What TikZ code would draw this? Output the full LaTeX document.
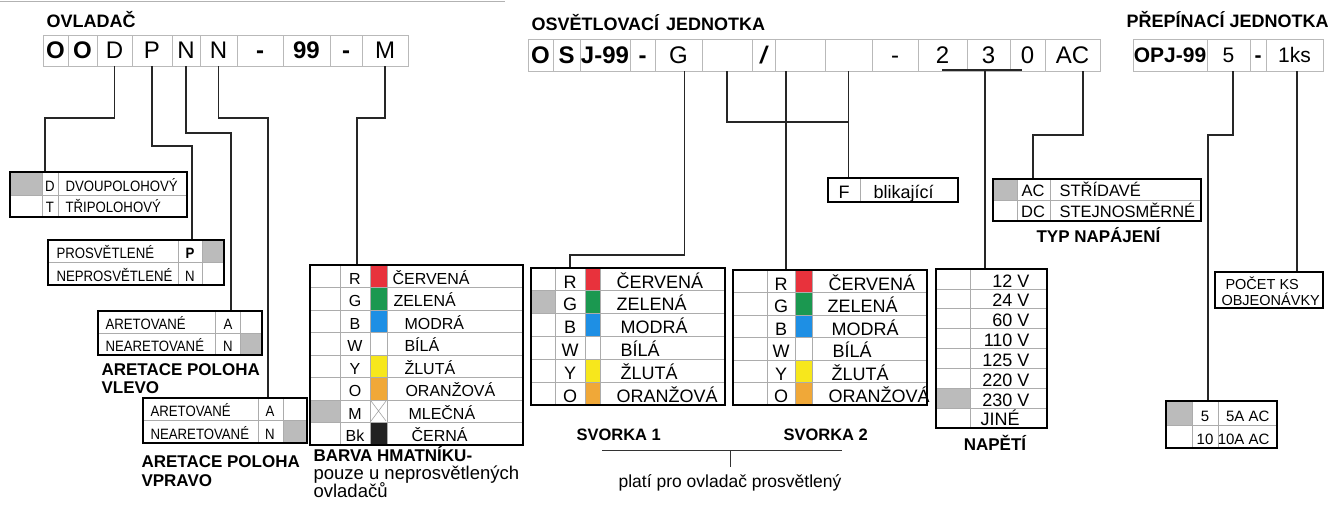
\documentclass[tikz,border=0pt]{standalone}
\usepackage{fontspec}
\setmainfont{Liberation Sans}
\newfontfamily\narrowfont[FakeStretch=0.88]{Liberation Sans}
\newcommand\fsz[1]{\fontsize{#1}{#1}\selectfont}
\newcommand\mkcell[7][]{\node[cellbox,#1, minimum width={#5-#3}, minimum height={#6-#4}] (#2) at ({(#3+#5)/2},{(#4+#6)/2}) {#7};}
\newcommand\mkframe[5]{\node[frame, minimum width={#4-#2}, minimum height={#5-#3}] (#1) at ({(#2+#4)/2},{(#3+#5)/2}) {};}
\definecolor{cred}{HTML}{E8323C}
\definecolor{cgreen}{HTML}{1B9850}
\definecolor{cblue}{HTML}{1E8FE4}
\definecolor{cyellow}{HTML}{F7E71C}
\definecolor{corange}{HTML}{F0A838}
\definecolor{cblack}{HTML}{222222}
\definecolor{selgray}{HTML}{BBBBBB}
\begin{document}
\begin{tikzpicture}[x=1pt,y=-1pt,
  cellbox/.style={draw=gray!55, line width=0.8pt, inner sep=0pt, font={\fsz{24}}, text height=17pt, text depth=0pt},
  frame/.style={draw=black, line width=1.8pt, inner sep=0pt},
  grid/.style={draw=gray!65, line width=0.7pt},
  conn/.style={draw=black!85, line width=1.3pt},
  sel/.style={fill=selgray},
  ttl/.style={anchor=base west, font={\bfseries\fsz{18}}},
  lbl/.style={anchor=base west, font={\bfseries\fsz{17}}},
  nar/.style={anchor=base west, font={\narrowfont\fsz{15}}},
  narc/.style={anchor=base, font={\narrowfont\fsz{15}}},
  txw/.style={anchor=base west, font={\fsz{#1}}},
  txc/.style={anchor=base, font={\fsz{#1}}},
  txe/.style={anchor=base east, font={\fsz{#1}}},
]
\useasboundingbox[fill=white] (0,0) rectangle (1336,508);
\coordinate (tl1) at (0,2); \coordinate (tl2) at (505,2);
\draw[gray!60, line width=1pt] (tl1) -- (tl2);

% ================= OVLADAC =================
\node[ttl] (tOV) at (43,28) {OVLADAČ};
\mkcell{c1}{43}{35}{68}{66}{\bfseries O}
\mkcell{c2}{68}{35}{97}{66}{\bfseries O}
\mkcell{c3}{97}{35}{132}{66}{D}
\mkcell{c4}{132}{35}{172}{66}{P}
\mkcell{c5}{172}{35}{200}{66}{N}
\mkcell{c6}{200}{35}{237}{66}{N}
\mkcell{c7}{237}{35}{283}{66}{\bfseries -}
\mkcell{c8}{283}{35}{330}{66}{\bfseries 99}
\mkcell{c9}{330}{35}{362}{66}{\bfseries -}
\mkcell{c10}{362}{35}{408}{66}{M}

% D / T table
\fill[sel] (10,172) rectangle (42,195);
\draw[grid] (10,195) -- (187,195) (42,172) -- (42,217) (58,172) -- (58,217);
\mkframe{tabD}{10}{172}{187}{217}
\node[narc] (dD) at (50,191) {D};
\node[narc] (dT) at (50,212) {T};
\node[nar] (dD2) at (62,191) {DVOUPOLOHOVÝ};
\node[nar] (dT2) at (62,212) {TŘIPOLOHOVÝ};

% P / N table
\fill[sel] (202,240) rectangle (224,262);
\draw[grid] (48,262) -- (224,262) (178,240) -- (178,285) (202,240) -- (202,285);
\mkframe{tabP}{48}{240}{224}{285}
\node[nar] (pP) at (53,258) {PROSVĚTLENÉ};
\node[nar] (pN) at (53,281) {NEPROSVĚTLENÉ};
\node[narc] (pP2) at (190,258) {\bfseries P};
\node[narc] (pN2) at (190,281) {N};

% ARETACE VLEVO
\fill[sel] (240,333) rectangle (262,355);
\draw[grid] (98,333) -- (262,333) (215,311) -- (215,355) (240,311) -- (240,355);
\mkframe{tabL}{98}{311}{262}{355}
\node[nar] (lA) at (102,329) {ARETOVANÉ};
\node[nar] (lN) at (102,351) {NEARETOVANÉ};
\node[narc] (lA2) at (228,329) {A};
\node[narc] (lN2) at (228,351) {N};
\node[lbl] (lL1) at (98,375) {ARETACE POLOHA};
\node[lbl] (lL2) at (98,393) {VLEVO};

% ARETACE VPRAVO
\fill[sel] (283,420) rectangle (307,443);
\draw[grid] (143,420) -- (307,420) (258,398) -- (258,443) (283,398) -- (283,443);
\mkframe{tabR}{143}{398}{307}{443}
\node[nar] (rA) at (147,416) {ARETOVANÉ};
\node[nar] (rN) at (147,439) {NEARETOVANÉ};
\node[narc] (rA2) at (270,416) {A};
\node[narc] (rN2) at (270,439) {N};
\node[lbl] (lR1) at (138,467) {ARETACE POLOHA};
\node[lbl] (lR2) at (138,486) {VPRAVO};

% BARVA table
\fill[cred] (370,265) rectangle (387,287.5);
\fill[cgreen] (370,287.5) rectangle (387,310);
\fill[cblue] (370,310) rectangle (387,332.5);
\fill[cyellow] (370,355) rectangle (387,377.5);
\fill[corange] (370,377.5) rectangle (387,400);
\fill[cblack] (370,422.5) rectangle (387,445);
\fill[sel] (310,400) rectangle (340,422.5);
\draw[gray!70, line width=0.6pt] (371,401) -- (386,421) (386,401) -- (371,421);
\foreach \i in {1,...,7} \draw[grid] (310,{265+22.5*\i}) -- (523,{265+22.5*\i});
\draw[grid] (340,265) -- (340,445) (370,265) -- (370,445) (387,265) -- (387,445);
\mkframe{tabB}{310}{265}{523}{445}
\foreach \l [count=\i from 0] in {R,G,B,W,Y,O,M,Bk}
  \node[txc=16] (bl\i) at (355,{265+22.5*\i+19}) {\l};
\foreach \t/\x [count=\i from 0] in {ČERVENÁ/389,ZELENÁ/390,MODRÁ/401,BÍLÁ/401,ŽLUTÁ/401,ORANŽOVÁ/402,MLEČNÁ/405,ČERNÁ/408}
  \node[txw=16] (bt\i) at (\x,{265+22.5*\i+19}) {\t};
\node[lbl] (bL1) at (310,461) {BARVA HMATNÍKU-};
\node[txw=18.5] (bL2) at (310,479) {pouze u neprosvětlených};
\node[txw=18.5] (bL3) at (310,497) {ovladačů};

% connectors OVLADAC
\coordinate (jD) at (45,118);
\draw[conn] (c3.south) |- (jD) -- (jD |- tabD.north);
\coordinate (jP) at (192,146);
\draw[conn] (c4.south) |- (jP) -- (jP |- tabP.north);
\coordinate (jN1) at (231,133);
\draw[conn] (c5.south) |- (jN1) -- (jN1 |- tabL.north);
\coordinate (jN2) at (268,118);
\draw[conn] (c6.south) |- (jN2) -- (jN2 |- tabR.north);
\coordinate (jM) at (357,118);
\draw[conn] (c10.south) |- (jM) -- (jM |- tabB.north);

% ================= OSVETLOVACI JEDNOTKA =================
\node[ttl] (tOS) at (528,31) {OSVĚTLOVACÍ\hspace{7pt}JEDNOTKA};
\mkcell{o1}{528}{39}{553}{71}{\bfseries O}
\mkcell{o2}{553}{39}{580}{71}{\bfseries S}
\mkcell{o3}{580}{39}{630}{71}{\bfseries J-99}
\mkcell{o4}{630}{39}{655}{71}{\bfseries -}
\mkcell{o5}{655}{39}{702}{71}{G}
\mkcell{o6}{702}{39}{752}{71}{}
\mkcell{o7}{752}{39}{775}{71}{\bfseries\itshape /}
\mkcell{o8}{775}{39}{825}{71}{}
\mkcell{o9}{825}{39}{872}{71}{}
\mkcell{o10}{872}{39}{918}{71}{-}
\mkcell{o11}{918}{39}{967}{71}{2}
\mkcell{o12}{967}{39}{1010}{71}{3}
\mkcell{o13}{1010}{39}{1045}{71}{0}
\mkcell{o14}{1045}{39}{1100}{71}{AC}

% F table
\draw[grid] (860,178) -- (860,202);
\mkframe{tabF}{828}{178}{958}{202}
\node[txc=18] (fF) at (844,198) {F};
\node[txw=18] (fB) at (870,198) {blikající};

% SVORKA 1
\fill[cred] (585,268) rectangle (600,290.8);
\fill[cgreen] (585,290.8) rectangle (600,313.7);
\fill[cblue] (585,313.7) rectangle (600,336.5);
\fill[cyellow] (585,359.3) rectangle (600,382.2);
\fill[corange] (585,382.2) rectangle (600,405);
\fill[sel] (531,290.8) rectangle (555,313.7);
\foreach \i in {1,...,5} \draw[grid] (531,{268+22.83*\i}) -- (725,{268+22.83*\i});
\draw[grid] (555,268) -- (555,405) (585,268) -- (585,405) (600,268) -- (600,405);
\mkframe{tabS1}{531}{268}{725}{405}
\foreach \l [count=\i from 0] in {R,G,B,W,Y,O}
  \node[txc=18] (sa\i) at (570,{268+22.83*\i+20}) {\l};
\foreach \t/\x [count=\i from 0] in {ČERVENÁ/613,ZELENÁ/613,MODRÁ/617,BÍLÁ/617,ŽLUTÁ/617,ORANŽOVÁ/613}
  \node[txw=18] (st\i) at (\x,{268+22.83*\i+20}) {\t};

% SVORKA 2
\fill[cred] (795,270) rectangle (812,292.5);
\fill[cgreen] (795,292.5) rectangle (812,315);
\fill[cblue] (795,315) rectangle (812,337.5);
\fill[cyellow] (795,360) rectangle (812,382.5);
\fill[corange] (795,382.5) rectangle (812,405);
\foreach \i in {1,...,5} \draw[grid] (733,{270+22.5*\i}) -- (927,{270+22.5*\i});
\draw[grid] (767,270) -- (767,405) (795,270) -- (795,405) (812,270) -- (812,405);
\mkframe{tabS2}{733}{270}{927}{405}
\foreach \l [count=\i from 0] in {R,G,B,W,Y,O}
  \node[txc=18] (sb\i) at (781,{270+22.5*\i+20}) {\l};
\foreach \t/\x [count=\i from 0] in {ČERVENÁ/825,ZELENÁ/824,MODRÁ/828,BÍLÁ/829,ŽLUTÁ/828,ORANŽOVÁ/825}
  \node[txw=18] (su\i) at (\x,{270+22.5*\i+20}) {\t};

\node[anchor=base west, font={\bfseries\fsz{16.5}}] (sv1) at (573,440) {SVORKA 1};
\node[anchor=base west, font={\bfseries\fsz{16.5}}] (sv2) at (780,440) {SVORKA 2};
\coordinate (brL) at (602,450); \coordinate (brR) at (842,450);
\coordinate (brM) at (730,450); \coordinate (brT) at (730,467);
\draw[black!80, line width=1pt] (brL) -- (brR) (brM) -- (brT);
\node[txc=17.5] (plati) at (730,487) {platí pro ovladač prosvětlený};

% NAPETI table
\fill[sel] (936,388.25) rectangle (970,408.1);
\foreach \i in {1,...,7} \draw[grid] (936,{269+19.875*\i}) -- (1047,{269+19.875*\i});
\draw[grid] (970,269) -- (970,428);
\mkframe{tabV}{936}{269}{1047}{428}
\foreach \t [count=\i from 0] in {12 V,24 V,60 V,110 V,125 V,220 V,230 V}
  \node[txe=18] (nv\i) at (1033,{269+19.875*\i+18}) {\t};
\node[txw=18] (nv7) at (977,425) {JINÉ};
\node[anchor=base, font={\bfseries\fsz{17}}] (lV) at (995,450) {NAPĚTÍ};

% TYP table
\fill[sel] (993,179) rectangle (1017,200);
\draw[grid] (993,200) -- (1201,200) (1017,179) -- (1017,221) (1050,179) -- (1050,221);
\mkframe{tabT}{993}{179}{1201}{221}
\node[txc=16.5] (tAC) at (1033,196) {AC};
\node[txc=16.5] (tDC) at (1033,217) {DC};
\node[txw=16.5] (tAC2) at (1056,196) {STŘÍDAVÉ};
\node[txw=16.5] (tDC2) at (1056,217) {STEJNOSMĚRNÉ};
\node[lbl] (lT) at (1033,242) {TYP NAPÁJENÍ};

% connectors OSJ
\coordinate (jG) at (570,255);
\draw[conn] ([xshift=6pt]o5.south) |- (jG) -- (jG |- tabS1.north);
\coordinate (jF) at (848.5,122);
\draw[conn] (o6.south) |- (jF);
\draw[conn] (o9.south) -- (o9.south |- tabF.north);
\coordinate (jS2) at (786,150);
\draw[conn] ([xshift=-14pt]o8.south) -- (jS2 |- tabS2.north);
\coordinate (bVl) at (942,70); \coordinate (bVr) at (1022,70);
\draw[conn] (bVl) -- (bVr);
\coordinate (jV) at (985,200);
\draw[conn] ([xshift=-3.5pt]o12.south) -- (jV |- tabV.north);
\coordinate (jT1) at (1083,135); \coordinate (jT2) at (1033,135);
\draw[conn] ([xshift=10.5pt]o14.south) -- (jT1) -- (jT2) -- (jT2 |- tabT.north);

% ================= PREPINACI JEDNOTKA =================
\node[ttl] (tPR) at (1123,28) {PŘEPÍNACÍ JEDNOTKA};
\mkcell[font={\fsz{21}}, text height=15pt]{p1}{1133}{39}{1207}{71}{\bfseries OPJ-99}
\mkcell[font={\fsz{21}}, text height=15pt]{p2}{1207}{39}{1250}{71}{5}
\mkcell[font={\fsz{21}}, text height=15pt]{p3}{1250}{39}{1266}{71}{\bfseries -}
\mkcell[font={\fsz{21}}, text height=15pt]{p4}{1266}{39}{1323}{71}{1ks}

\mkframe{tabK}{1215}{272}{1323}{308}
\node[txw=14.5] (k1) at (1222,289) {POČET KS};
\node[txw=14.5] (k2) at (1218,305) {OBJEONÁVKY};

\fill[sel] (1166,401) rectangle (1192,425);
\draw[grid] (1166,425) -- (1277,425) (1192,401) -- (1192,448) (1218,401) -- (1218,448);
\mkframe{tab5}{1166}{401}{1277}{448}
\node[txc=15] (f5) at (1205,421) {5};
\node[txc=15] (f10) at (1205,444) {10};
\node[txe=15] (f5a) at (1273,421) {5A AC};
\node[txe=15] (f10a) at (1273,444) {10A AC};

\coordinate (j51) at (1233,135); \coordinate (j52) at (1208,135);
\draw[conn] ([xshift=4.5pt]p2.south) -- (j51) -- (j52) -- (j52 |- tab5.north);
\draw[conn] ([xshift=2.5pt]p4.south) -- ([xshift=2.5pt]p4.south |- tabK.north);
\end{tikzpicture}
\end{document}
